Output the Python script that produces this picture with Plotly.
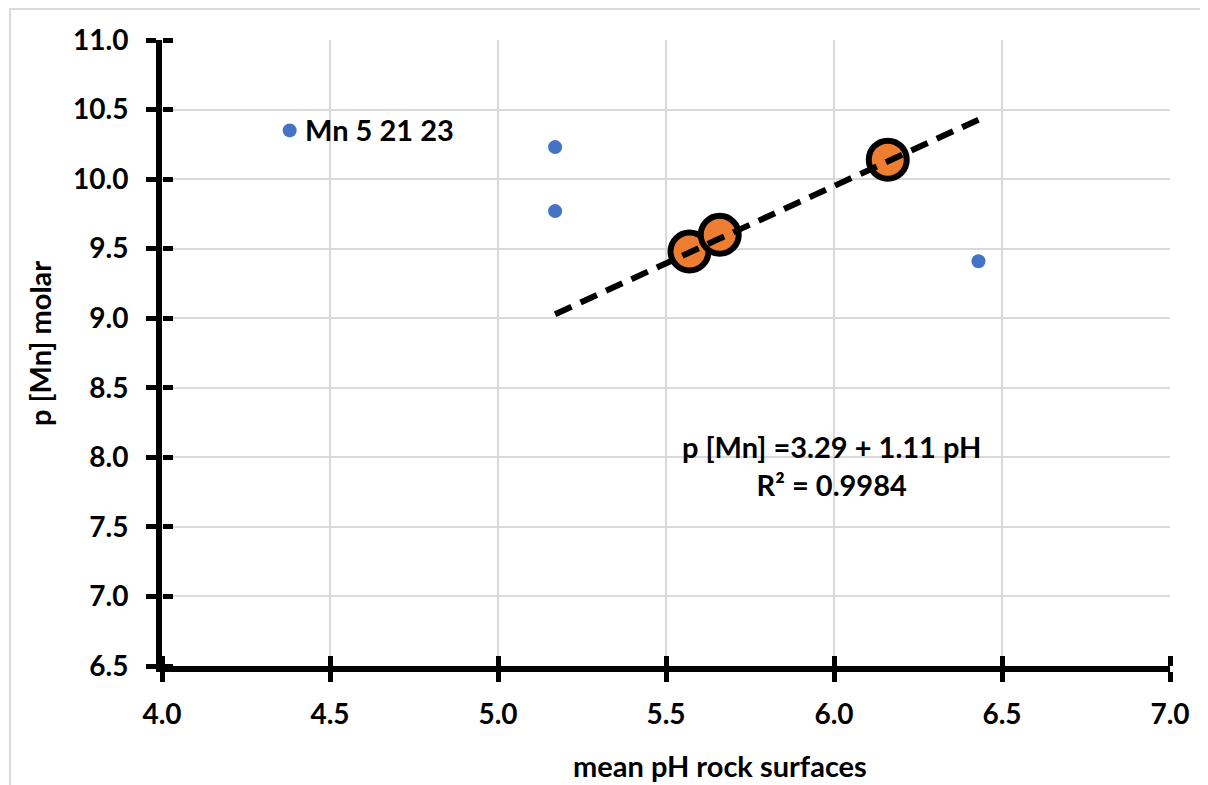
import plotly.graph_objects as go

# Data
blue_x = [4.38, 5.17, 5.17, 6.43]
blue_y = [10.35, 10.23, 9.77, 9.41]
orange_x = [5.57, 5.66, 6.16]
orange_y = [9.48, 9.60, 10.14]
fit_intercept = 3.29
fit_slope = 1.11
fit_x = [5.17, 6.43]
fit_y = [fit_intercept + fit_slope * v for v in fit_x]
label_text = "Mn 5 21 23"
eq_text = "p [Mn] =3.29 + 1.11 pH<br>R² = 0.9984"
x_title = "mean pH rock surfaces"
y_title = "p [Mn] molar"

FONT = "Lato"
BLUE = "#4472C4"
ORANGE = "#ED7D31"

fig = go.Figure()
fig.add_trace(go.Scatter(x=blue_x, y=blue_y, mode="markers",
                         marker=dict(size=14, color=BLUE), showlegend=False))
fig.add_trace(go.Scatter(x=orange_x, y=orange_y, mode="markers",
                         marker=dict(size=38, color=ORANGE, line=dict(color="black", width=6)),
                         showlegend=False))
fig.add_trace(go.Scatter(x=fit_x, y=fit_y, mode="lines",
                         line=dict(color="black", width=6, dash="18px,10px"),
                         showlegend=False))
# invisible trace on secondary axes for crossing ticks
fig.add_trace(go.Scatter(x=[4], y=[6.5], xaxis="x2", yaxis="y2", mode="markers",
                         marker=dict(opacity=0), showlegend=False, hoverinfo="skip"))

tickfont = dict(family=FONT, size=28, color="black", weight="bold")
titlefont = dict(family=FONT, size=29, color="black", weight="bold")
fig.update_layout(
    width=1208, height=785,
    margin=dict(l=154, r=46, t=32, b=127),
    paper_bgcolor="white", plot_bgcolor="white",
    xaxis=dict(range=[4.0, 7.0], tickmode="linear", tick0=4.0, dtick=0.5, tickformat=".1f",
               showline=True, linecolor="black", linewidth=6,
               ticks="outside", ticklen=10, tickwidth=5, tickcolor="black",
               showgrid=True, gridcolor="#d9d9d9", gridwidth=2, zeroline=False,
               tickfont=tickfont, ticklabelstandoff=8),
    yaxis=dict(range=[6.5, 11.0], tickmode="linear", tick0=6.5, dtick=0.5, tickformat=".1f",
               showline=True, linecolor="black", linewidth=6,
               ticks="outside", ticklen=10, tickwidth=5, tickcolor="black",
               showgrid=True, gridcolor="#d9d9d9", gridwidth=2, zeroline=False,
               tickfont=tickfont, ticklabelstandoff=12),
    xaxis2=dict(range=[4.0, 7.0], overlaying="x", anchor="free", position=0, side="top",
                tickmode="linear", tick0=4.0, dtick=0.5,
                ticks="outside", ticklen=10, tickwidth=5, tickcolor="black",
                showticklabels=False, showgrid=False, zeroline=False, showline=False),
    yaxis2=dict(range=[6.5, 11.0], overlaying="y", anchor="free", position=0, side="right",
                tickmode="linear", tick0=6.5, dtick=0.5,
                ticks="outside", ticklen=10, tickwidth=5, tickcolor="black",
                showticklabels=False, showgrid=False, zeroline=False, showline=False),
)

# axis titles (offset like the reference)
fig.add_annotation(xref="paper", yref="paper", x=0.5536, y=-0.1597, text=x_title,
                   showarrow=False, xanchor="center", yanchor="middle", font=titlefont)
fig.add_annotation(xref="paper", yref="paper", x=-0.121, y=0.5144, text=y_title,
                   showarrow=False, xanchor="center", yanchor="middle", textangle=-90,
                   font=titlefont)

fig.add_annotation(x=blue_x[0], y=blue_y[0], text=label_text, showarrow=False,
                   xanchor="left", xshift=13, yshift=1,
                   font=titlefont)
fig.add_annotation(x=5.994, y=7.94, text=eq_text, showarrow=False,
                   xanchor="center", yanchor="middle",
                   font=titlefont)

fig.add_shape(type="rect", xref="paper", yref="paper",
              x0=-152/1008, x1=1+80/1008, y0=-200/626, y1=1+31/626,
              line=dict(color="#d9d9d9", width=2), fillcolor="rgba(0,0,0,0)", layer="below")

fig.write_html("out.html")
